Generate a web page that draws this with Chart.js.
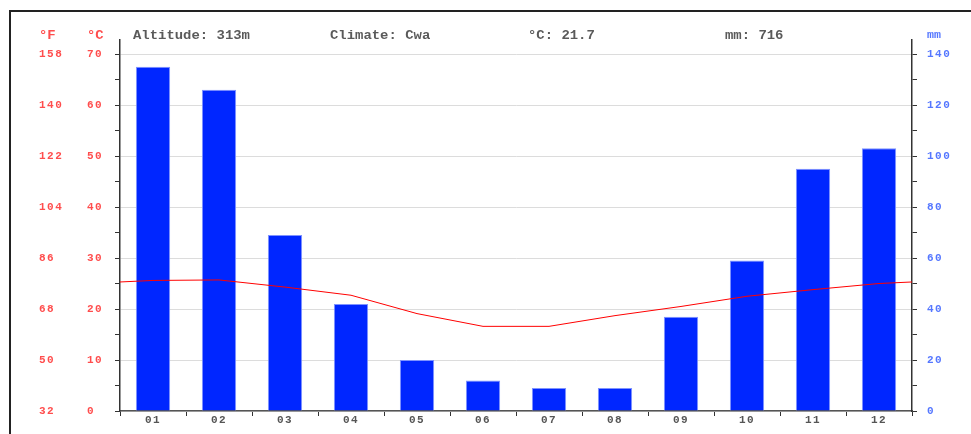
<!DOCTYPE html>
<html>
<head>
    <title>Climograph</title>
    <script src="https://cdn.jsdelivr.net/npm/chart.js"></script>
    <style>
        body { margin: 0; background: #fff; overflow: hidden; }
        #frame { position: absolute; left: 9px; top: 10px; width: 1000px; height: 500px;
                 border-left: 2px solid #222; border-top: 2px solid #222; }
        #wrap { position: absolute; left: 0; top: 0; width: 971px; height: 434px; }
        .lbl { position: absolute; font-family: "Liberation Mono", monospace; font-size: 12px;
               font-weight: bold; white-space: pre; transform-origin: left top; transform: scaleX(1.16); }
    </style>
</head>
<body>
    <div id="frame"></div>
    <div id="wrap"><canvas id="climo" width="971" height="434"></canvas></div>

    <div class="lbl" style="left:133px; top:29px; color:#5a5a5a;">Altitude: 313m</div>
    <div class="lbl" style="left:330px; top:29px; color:#5a5a5a;">Climate: Cwa</div>
    <div class="lbl" style="left:528px; top:29px; color:#5a5a5a;">°C: 21.7</div>
    <div class="lbl" style="left:725px; top:29px; color:#5a5a5a;">mm: 716</div>
    <div class="lbl" style="left:39px; top:29px; color:#ff4d4d;">°F</div>
    <div class="lbl" style="left:87px; top:29px; color:#ff4d4d;">°C</div>
    <div class="lbl" style="left:927px; top:30px; color:#5577ff; font-size:10px;">mm</div>

    <script>
        const months = ['01', '02', '03', '04', '05', '06', '07', '08', '09', '10', '11', '12'];
        const precipitation = [135, 126, 69, 42, 20, 12, 9, 9, 37, 59, 95, 103];
        const temperature = [25.6, 25.7, 24.3, 22.7, 19.1, 16.6, 16.6, 18.7, 20.5, 22.5, 23.8, 25.0];
        const celsiusTicks = [0, 5, 10, 15, 20, 25, 30, 35, 40, 45, 50, 55, 60, 65, 70];
        const fahrenheitTicks = [32, 50, 68, 86, 104, 122, 140, 158];
        const mmTicks = [0, 10, 20, 30, 40, 50, 60, 70, 80, 90, 100, 110, 120, 130, 140];

        // the scales run a little past the last labelled tick
        const cMax = 72.75;
        const fMax = cMax * 1.8 + 32;
        const mmMax = cMax * 2;

        // temperature line wraps around the year at both edges
        const edgeTemp = (temperature[0] + temperature[11]) / 2;
        const tempPoints = [{ x: -0.5, y: edgeTemp }]
            .concat(temperature.map((t, i) => ({ x: i, y: t })))
            .concat([{ x: 11.5, y: edgeTemp }]);

        const tickFont = { family: 'Liberation Mono', size: 11, weight: 'bold' };
        const setTicks = list => scale => { scale.ticks = list.map(v => ({ value: v })); };

        const wideText = {
            id: 'wideText',
            beforeDraw(chart) { chart.ctx.letterSpacing = '1.5px'; }
        };

        new Chart(document.getElementById('climo'), {
            data: {
                labels: months,
                datasets: [{
                    type: 'line',
                    data: tempPoints,
                    xAxisID: 'xl',
                    yAxisID: 'c',
                    borderColor: '#ff0000',
                    borderWidth: 1,
                    pointRadius: 0,
                    tension: 0,
                    order: 0
                }, {
                    type: 'bar',
                    data: precipitation,
                    xAxisID: 'x',
                    yAxisID: 'mm',
                    backgroundColor: '#0026ff',
                    borderColor: '#7f93ff',
                    borderWidth: 1,
                    grouped: false,
                    barPercentage: 0.52,
                    categoryPercentage: 1,
                    order: 1
                }]
            },
            options: {
                responsive: false,
                animation: false,
                layout: { padding: { left: 39, top: 40, right: 0, bottom: 0 } },
                plugins: { legend: { display: false }, tooltip: { enabled: false } },
                scales: {
                    x: {
                        type: 'category',
                        offset: true,
                        afterFit: s => { s.height = 23; },
                        border: { color: '#555', width: 1.5 },
                        grid: { offset: true, drawOnChartArea: false, tickLength: 5, color: '#333' },
                        ticks: { color: '#555', font: tickFont, padding: -2 }
                    },
                    xl: {
                        type: 'linear',
                        min: -0.5,
                        max: 11.5,
                        display: false
                    },
                    f: {
                        type: 'linear',
                        position: 'left',
                        weight: 1,
                        min: 32,
                        max: fMax,
                        afterBuildTicks: setTicks(fahrenheitTicks),
                        afterFit: s => { s.width = 48; },
                        border: { display: false },
                        grid: { display: false, drawTicks: false },
                        ticks: { color: '#ff4d4d', font: tickFont, crossAlign: 'far', padding: 0 }
                    },
                    c: {
                        type: 'linear',
                        position: 'left',
                        weight: 0,
                        min: 0,
                        max: cMax,
                        afterBuildTicks: setTicks(celsiusTicks),
                        afterFit: s => { s.width = 33; },
                        border: { color: '#333', width: 1.5 },
                        grid: {
                            tickLength: 5,
                            color: ctx => (ctx.tick && ctx.tick.value % 10 === 0) ? '#dcdcdc' : 'rgba(0,0,0,0)',
                            tickColor: '#333'
                        },
                        ticks: {
                            color: '#ff4d4d',
                            font: tickFont,
                            crossAlign: 'far',
                            padding: 0,
                            callback: v => (v % 10 === 0 ? v : '')
                        }
                    },
                    mm: {
                        type: 'linear',
                        position: 'right',
                        min: 0,
                        max: mmMax,
                        afterBuildTicks: setTicks(mmTicks),
                        afterFit: s => { s.width = 59; },
                        border: { color: '#333', width: 1.5 },
                        grid: { drawOnChartArea: false, tickLength: 5, tickColor: '#333' },
                        ticks: {
                            color: '#5577ff',
                            font: tickFont,
                            padding: 10,
                            callback: v => (v % 20 === 0 ? v : '')
                        }
                    }
                }
            },
            plugins: [wideText]
        });
    </script>
</body>
</html>
